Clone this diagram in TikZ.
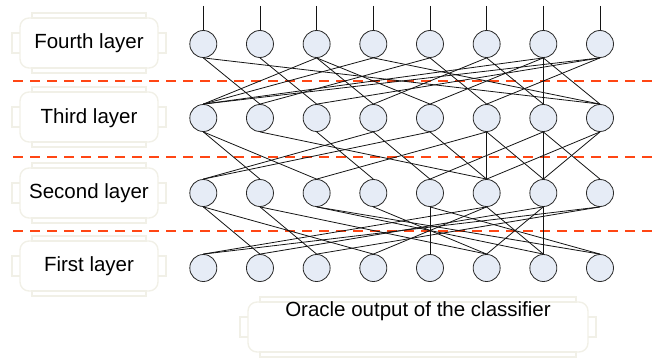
\documentclass[tikz,border=0pt]{standalone}
\usepackage{fontspec}
\setmainfont{Liberation Sans}
\definecolor{nodefill}{RGB}{230,236,246}
\definecolor{nodeline}{RGB}{40,40,40}
\definecolor{dashred}{RGB}{255,70,20}
\definecolor{framecol}{RGB}{241,240,231}
\newcommand\lblframe[3]{%
  \draw[frameline] ({#1-#3},{#2-30}) rectangle ({#1+#3},{#2-25});
  \draw[frameline] ({#1-#3},{#2+25}) rectangle ({#1+#3},{#2+30});
  \draw[frameline,rounded corners=9pt] ({#1-#3},{#2-25}) -- ({#1-#3-12},{#2-25}) -- ({#1-#3-12},{#2+25}) -- ({#1-#3},{#2+25});
  \draw[frameline,rounded corners=9pt] ({#1+#3},{#2-25}) -- ({#1+#3+12},{#2-25}) -- ({#1+#3+12},{#2+25}) -- ({#1+#3},{#2+25});
  \draw[frameline] ({#1-#3-12},{#2-10}) -- ({#1-#3-20},{#2-10}) -- ({#1-#3-20},{#2+10}) -- ({#1-#3-12},{#2+10});
  \draw[frameline] ({#1+#3+12},{#2-10}) -- ({#1+#3+20},{#2-10}) -- ({#1+#3+20},{#2+10}) -- ({#1+#3+12},{#2+10});
}
\begin{document}
\begin{tikzpicture}[x=1pt,y=-1pt,
  neuron/.style={circle,draw=nodeline,fill=nodefill,line width=0.8pt,minimum size=27pt,inner sep=0pt},
  conn/.style={draw=black!92,line width=0.8pt},
  sepline/.style={draw=dashred,line width=1.8pt,dash pattern=on 10pt off 7pt},
  frameline/.style={draw=framecol,line width=1.4pt},
  lbl/.style={font=\fontsize{20.5}{24}\selectfont,inner sep=0pt}]
\useasboundingbox (0,0) rectangle (658,358);
% frames
\lblframe{89}{43}{57}
\lblframe{89}{117}{57}
\lblframe{89}{193}{57}
\lblframe{89}{266}{57}
\lblframe{418}{327}{158}
% labels
\node[lbl] (l4) at (89,43) {Fourth layer};
\node[lbl] (l3) at (89,118) {Third layer};
\node[lbl] (l2) at (89,193) {Second layer};
\node[lbl] (l1) at (89,266) {First layer};
\node[lbl] (lo) at (418,311) {Oracle output of the classifier};
% dashed separators
\coordinate (s1a) at (13,81);  \coordinate (s1b) at (652,81);
\coordinate (s2a) at (13,157); \coordinate (s2b) at (652,157);
\coordinate (s3a) at (13,231); \coordinate (s3b) at (652,231);
\draw[sepline] (s1a) -- (s1b);
\draw[sepline] (s2a) -- (s2b);
\draw[sepline] (s3a) -- (s3b);
% nodes
\foreach \i in {1,...,8}{
  \pgfmathsetmacro\xx{203.3+56.67*(\i-1)}
  \node[neuron] (a\i) at (\xx,44) {};
  \node[neuron] (b\i) at (\xx,118) {};
  \node[neuron] (c\i) at (\xx,193) {};
  \node[neuron] (d\i) at (\xx,268) {};
  \coordinate (t\i) at (\xx,6);
}
% top outputs
\foreach \i in {1,...,8}{ \draw[conn] (t\i) -- (a\i.north); }
% fourth -> third
\foreach \u/\l in {1/2,1/8,2/3,3/4,3/1,3/5,4/1,4/8,5/6,5/2,6/4,6/7,7/7,7/8,7/1,7/5,8/6,8/3,8/1}{
  \draw[conn] (a\u.south) -- (b\l.north);
}
% third -> second
\foreach \u/\l in {1/2,1/3,2/6,3/4,4/1,4/5,5/6,5/1,6/6,6/7,6/3,7/7,7/8,7/5,8/6,8/7}{
  \draw[conn] (b\u.south) -- (c\l.north);
}
% second -> first
\foreach \u/\l in {1/2,1/4,2/3,2/6,3/7,3/8,4/6,5/5,5/8,6/1,6/4,6/7,7/7,7/6,7/2,8/1,8/3}{
  \draw[conn] (c\u.south) -- (d\l.north);
}
\end{tikzpicture}
\end{document}
